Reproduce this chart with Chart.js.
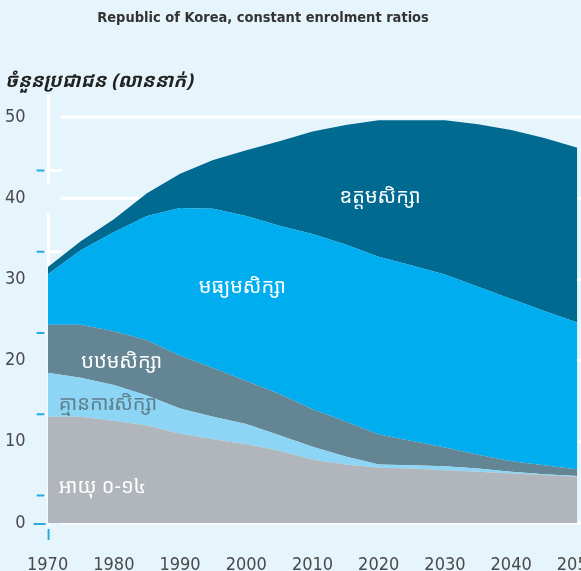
<!DOCTYPE html>
<html>
<head>
<meta charset="utf-8">
<script src="https://cdn.jsdelivr.net/npm/chart.js@4.4.1/dist/chart.umd.min.js"></script>
<style>
html, body { margin: 0; padding: 0; background: #e6f4fc; overflow: hidden; }
#wrap { width: 625px; height: 571px; }
</style>
</head>
<body>
<div id="wrap"><canvas id="popChart"></canvas></div>
<script>
// years on the x axis
const years = [1970, 1975, 1980, 1985, 1990, 1995, 2000, 2005, 2010, 2015, 2020, 2025, 2030, 2035, 2040, 2045, 2050];
const xTicks = [1970, 1980, 1990, 2000, 2010, 2020, 2030, 2040, 2050];
const yTicks = [0, 10, 20, 30, 40, 50];

// population, millions (stacked layers)
const age0to14  = [13.1, 13.1, 12.6, 12.0, 11.0, 10.3, 9.7, 8.9, 7.8, 7.2, 6.8, 6.7, 6.5, 6.3, 6.1, 5.9, 5.7];
const noSchool  = [5.4, 4.8, 4.4, 3.7, 3.1, 2.8, 2.5, 1.9, 1.6, 1.0, 0.4, 0.4, 0.5, 0.4, 0.2, 0.1, 0.1];
const primary   = [5.9, 6.5, 6.6, 6.8, 6.5, 6.0, 5.3, 5.1, 4.6, 4.3, 3.7, 3.0, 2.3, 1.7, 1.3, 1.1, 0.8];
const secondary = [6.2, 9.2, 12.2, 15.3, 18.2, 19.6, 20.3, 20.7, 21.6, 21.8, 21.9, 21.6, 21.3, 20.7, 20.0, 19.0, 18.1];
const tertiary  = [0.9, 1.1, 1.6, 2.8, 4.2, 6.0, 8.1, 10.4, 12.6, 14.7, 16.8, 17.9, 19.0, 20.0, 20.8, 21.3, 21.5];

const seriesNames = ["អាយុ ០-១៤", "គ្មានការសិក្សា", "បឋមសិក្សា", "មធ្យមសិក្សា", "ឧត្តមសិក្សា"];

const titleText = "Republic of Korea, constant enrolment ratios";
const yTitleText = "ចំនួនប្រជាជន (លាននាក់)";

const numFont = "'Liberation Sans Narrow', 'DejaVu Sans Condensed', sans-serif";
const khmerFont = "'Noto Sans Khmer', 'Khmer OS', 'Noto Sans', sans-serif";

const colors = ["#b1b6bd", "#8dd5f5", "#648593", "#00aeef", "#006a91"];

const toPoints = arr => arr.map((v, i) => ({ x: years[i], y: v }));

// in-area labels: [series index, year, value, align, colour]
const areaLabels = [
  [0, 1971.7, 4.4, "left", "#ffffff"],
  [1, 1971.7, 14.6, "left", "#5f7f8c"],
  [2, 1981.2, 19.8, "center", "#ffffff"],
  [3, 1999.4, 29.0, "center", "#ffffff"],
  [4, 2020.2, 40.1, "center", "#ffffff"]
];

const deco = {
  id: "deco",
  beforeDatasetsDraw(chart) {
    const { ctx, chartArea: a, scales: { y } } = chart;
    ctx.save();
    ctx.strokeStyle = "#ffffff";
    ctx.lineWidth = 3;
    ctx.beginPath();
    yTicks.forEach(v => {
      const py = y.getPixelForValue(v);
      ctx.moveTo(a.left + 13, py);
      ctx.lineTo(chart.width, py);
    });
    ctx.stroke();
    ctx.restore();
  },
  beforeDraw(chart) {
    const { ctx, chartArea: a, scales: { x, y } } = chart;
    ctx.save();
    // white axis line with a gap near 40
    ctx.strokeStyle = "#ffffff";
    ctx.lineWidth = 3;
    ctx.beginPath();
    ctx.moveTo(a.left + 1, a.top - 22);
    ctx.lineTo(a.left + 1, y.getPixelForValue(41.8));
    ctx.moveTo(a.left + 1, y.getPixelForValue(38.2));
    ctx.lineTo(a.left + 1, a.bottom + 3);
    yTicks.slice(0, 5).forEach(v => {
      const py = y.getPixelForValue(v + 3.4);
      ctx.moveTo(a.left - 4, py);
      ctx.lineTo(a.left + 14, py);
    });
    ctx.stroke();
    // small blue ticks
    ctx.strokeStyle = "#29abe2";
    ctx.lineWidth = 2;
    ctx.beginPath();
    yTicks.slice(0, 5).forEach(v => {
      const py = y.getPixelForValue(v + 3.4);
      ctx.moveTo(a.left - 11, py);
      ctx.lineTo(a.left - 3, py);
    });
    ctx.moveTo(a.left - 14, a.bottom + 1);
    ctx.lineTo(a.left - 2, a.bottom + 1);
    const px = x.getPixelForValue(years[0]);
    ctx.moveTo(px + 1, a.bottom + 6);
    ctx.lineTo(px + 1, a.bottom + 17);
    ctx.stroke();
    ctx.restore();
  },
  afterDraw(chart) {
    const { ctx, scales: { x, y } } = chart;
    ctx.save();
    ctx.fillStyle = "#333333";
    ctx.textAlign = "center";
    ctx.textBaseline = "middle";
    ctx.font = "bold 14.5px 'DejaVu Sans Condensed', sans-serif";
    ctx.fillText(titleText, 263, 18);
    ctx.textAlign = "left";
    ctx.font = "italic bold 19px " + khmerFont;
    ctx.fillStyle = "#222222";
    ctx.fillText(yTitleText, 5, 82);
    ctx.font = "20px " + khmerFont;
    areaLabels.forEach(([i, yr, v, align, col]) => {
      ctx.fillStyle = col;
      ctx.textAlign = align;
      ctx.fillText(seriesNames[i], x.getPixelForValue(yr), y.getPixelForValue(v));
    });
    ctx.restore();
  }
};

const layers = [age0to14, noSchool, primary, secondary, tertiary];

new Chart(document.getElementById("popChart"), {
  type: "line",
  data: {
    datasets: layers.map((arr, i) => ({
      label: seriesNames[i],
      data: toPoints(arr),
      backgroundColor: colors[i],
      borderWidth: 0,
      pointRadius: 0,
      tension: 0,
      fill: i === 0 ? "origin" : "-1"
    }))
  },
  options: {
    responsive: true,
    maintainAspectRatio: false,
    animation: false,
    layout: { padding: { top: 117, left: 0, right: 0, bottom: 0 } },
    plugins: {
      legend: { display: false },
      title: { display: false },
      tooltip: { enabled: false }
    },
    scales: {
      x: {
        type: "linear",
        min: 1970,
        max: 2050,
        grid: { display: false, drawTicks: false },
        border: { display: false },
        afterBuildTicks: s => { s.ticks = xTicks.map(v => ({ value: v })); },
        afterFit: s => { s.height = 48; },
        ticks: {
          padding: 27,
          color: "#4a4a4a",
          font: { family: numFont, size: 18, lineHeight: 1.65 },
          callback: v => String(v)
        }
      },
      y: {
        stacked: true,
        min: 0,
        max: 50,
        grid: { display: false, drawTicks: false },
        border: { display: false },
        afterBuildTicks: s => { s.ticks = yTicks.map(v => ({ value: v })); },
        afterFit: s => { s.width = 44; },
        ticks: {
          padding: 22,
          color: "#4a4a4a",
          font: { family: numFont, size: 18 }
        }
      }
    }
  },
  plugins: [deco]
});
</script>
</body>
</html>
